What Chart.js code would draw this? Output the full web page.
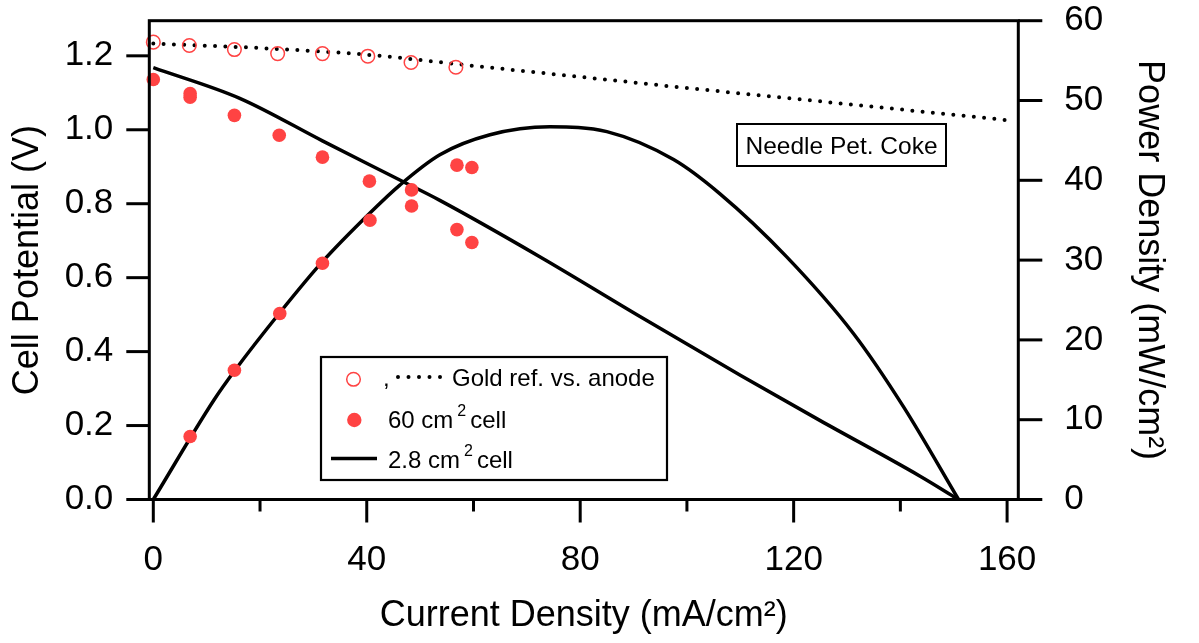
<!DOCTYPE html>
<html>
<head>
<meta charset="utf-8">
<script src="https://cdn.jsdelivr.net/npm/chart.js@4.4.1/dist/chart.umd.min.js"></script>
<style>
  html, body { margin: 0; padding: 0; background: #fff; }
  #wrap { width: 1199px; height: 643px; }
</style>
</head>
<body>
<div id="wrap"><canvas id="c" width="1199" height="643"></canvas></div>
<script>
// Current density (mA/cm²) against cell potential (V) and power density (mW/cm²)
const goldRefX  = [0, 6.75, 15.2, 23.3, 31.7, 40.2, 48.3, 56.7];
const goldRefV  = [1.237, 1.228, 1.217, 1.206, 1.206, 1.199, 1.182, 1.169];

const goldLineX = [0, 20, 40, 60, 80, 100, 120, 140, 160];
const goldLineV = [1.233, 1.221, 1.203, 1.173, 1.143, 1.113, 1.084, 1.055, 1.026];

const cell60X   = [0, 6.9, 6.9, 15.2, 23.6, 31.7, 40.5, 48.4, 56.9, 59.7];
const cell60V   = [1.136, 1.098, 1.088, 1.039, 0.985, 0.926, 0.861, 0.794, 0.730, 0.695];

const cell60PX  = [6.9, 15.2, 23.7, 31.7, 40.6, 48.4, 56.9, 59.7];
const cell60P   = [7.9, 16.2, 23.3, 29.6, 35.0, 38.8, 41.9, 41.6];

const cell28X   = [0, 16.2, 31.7, 46.2, 53.7, 72.5, 91.2, 110, 124.9, 143.7, 150.9];
const cell28V   = [1.168, 1.085, 0.970, 0.864, 0.809, 0.656, 0.495, 0.336, 0.214, 0.063, 0];

const cell28PX  = [0, 11.4, 15.2, 23.7, 31.7, 40.6, 46.2, 53.7, 63.1, 74.3, 85.0, 97.5, 106.2, 118.7, 131.2, 140.6, 150.9];
const cell28P   = [0, 12.5, 16.1, 23.4, 29.8, 35.9, 39.4, 43.2, 45.7, 46.7, 46.1, 42.6, 38.3, 30.4, 20.8, 11.6, 0];

const xTickStep = 20;
const xLabelStep = 40;

const RED = '#FF4343';
const FONT = '"Liberation Sans", Arial, sans-serif';
Chart.defaults.font.family = FONT;
Chart.defaults.color = '#000';

const toXY = (xs, ys) => xs.map((x, i) => ({ x, y: ys[i] }));

// Frame, outward tick marks, legend and sample label
const decorations = {
  id: 'decorations',
  afterDraw(chart) {
    const { ctx, chartArea: a, scales } = chart;
    ctx.save();
    ctx.strokeStyle = '#000';
    ctx.lineCap = 'butt';
    ctx.lineWidth = 3;
    ctx.strokeRect(a.left, a.top, a.right - a.left, a.bottom - a.top);

    const seg = (x1, y1, x2, y2) => { ctx.beginPath(); ctx.moveTo(x1, y1); ctx.lineTo(x2, y2); ctx.stroke(); };
    scales.x.ticks.forEach(t => {
      const px = scales.x.getPixelForValue(t.value);
      const major = Math.abs(t.value % xLabelStep) < 1e-6;
      seg(px, a.bottom, px, a.bottom + (major ? 23 : 12));
    });
    scales.y.ticks.forEach(t => {
      const py = scales.y.getPixelForValue(t.value);
      seg(a.left - 23, py, a.left, py);
    });
    scales.y1.ticks.forEach(t => {
      const py = scales.y1.getPixelForValue(t.value);
      seg(a.right, py, a.right + 24, py);
    });

    // Legend box
    const L = { x: 321, y: 357, w: 346, h: 123 };
    ctx.fillStyle = '#fff';
    ctx.fillRect(L.x, L.y, L.w, L.h);
    ctx.lineWidth = 2.2;
    ctx.strokeRect(L.x, L.y, L.w, L.h);

    const textFont = '24px ' + FONT;
    const supFont = '16px ' + FONT;
    ctx.fillStyle = '#000';
    ctx.textBaseline = 'alphabetic';
    ctx.textAlign = 'left';

    // Row 1: open circle, comma, dotted sample, text
    ctx.beginPath();
    ctx.arc(353.5, 379.3, 6.8, 0, Math.PI * 2);
    ctx.strokeStyle = RED;
    ctx.lineWidth = 1.5;
    ctx.stroke();
    ctx.font = textFont;
    ctx.fillStyle = '#000';
    ctx.fillText(',', 383, 386);
    ctx.save();
    ctx.strokeStyle = '#000';
    ctx.lineWidth = 4;
    ctx.lineCap = 'round';
    ctx.setLineDash([0, 10.5]);
    ctx.beginPath(); ctx.moveTo(398, 377); ctx.lineTo(445, 377); ctx.stroke();
    ctx.restore();
    ctx.fillText('Gold ref. vs. anode', 452, 386);

    // Row 2: filled circle, "60 cm² cell"
    ctx.beginPath();
    ctx.arc(354.3, 420, 7.2, 0, Math.PI * 2);
    ctx.fillStyle = RED;
    ctx.fill();
    ctx.fillStyle = '#000';
    const supLabel = (pre, post, x, y) => {
      ctx.font = textFont;
      ctx.fillText(pre, x, y);
      let cx = x + ctx.measureText(pre).width + 4;
      ctx.font = supFont;
      ctx.fillText('2', cx, y - 12);
      cx += ctx.measureText('2').width + 4;
      ctx.font = textFont;
      ctx.fillText(post, cx, y);
    };
    supLabel('60 cm', 'cell', 388, 427.5);

    // Row 3: solid line, "2.8 cm² cell"
    ctx.strokeStyle = '#000';
    ctx.lineWidth = 3.5;
    seg(331, 458.5, 377, 458.5);
    supLabel('2.8 cm', 'cell', 388, 468);

    // Sample label
    const B = { x: 737, y: 124, w: 209, h: 42 };
    ctx.fillStyle = '#fff';
    ctx.fillRect(B.x, B.y, B.w, B.h);
    ctx.lineWidth = 2;
    ctx.strokeStyle = '#000';
    ctx.strokeRect(B.x, B.y, B.w, B.h);
    ctx.fillStyle = '#000';
    ctx.font = '24.5px ' + FONT;
    ctx.textAlign = 'center';
    ctx.fillText('Needle Pet. Coke', B.x + B.w / 2, B.y + 30);
    ctx.restore();
  }
};

const noPadV = s => { s.paddingTop = 0; s.paddingBottom = 0; };
const noPadH = s => { s.paddingLeft = 0; s.paddingRight = 0; };

new Chart(document.getElementById('c'), {
  type: 'line',
  data: {
    datasets: [
      {
        label: 'Gold ref. vs. anode',
        data: toXY(goldRefX, goldRefV),
        showLine: false,
        pointRadius: 6.8,
        pointBorderWidth: 1.5,
        pointBorderColor: RED,
        pointBackgroundColor: 'rgba(0,0,0,0)',
        yAxisID: 'y',
        clip: false
      },
      {
        label: '60 cm² cell',
        data: toXY(cell60X, cell60V),
        showLine: false,
        pointRadius: 6.8,
        pointBorderWidth: 0,
        pointBackgroundColor: RED,
        pointBorderColor: RED,
        yAxisID: 'y',
        clip: false
      },
      {
        label: '60 cm² cell power',
        data: toXY(cell60PX, cell60P),
        showLine: false,
        pointRadius: 6.8,
        pointBorderWidth: 0,
        pointBackgroundColor: RED,
        pointBorderColor: RED,
        yAxisID: 'y1',
        clip: false
      },
      {
        label: 'Gold ref. line',
        data: toXY(goldLineX, goldLineV),
        borderColor: '#000',
        borderWidth: 4,
        borderDash: [0, 10.3],
        borderCapStyle: 'round',
        pointRadius: 0,
        cubicInterpolationMode: 'monotone',
        yAxisID: 'y'
      },
      {
        label: '2.8 cm² cell',
        data: toXY(cell28X, cell28V),
        borderColor: '#000',
        borderWidth: 3.5,
        pointRadius: 0,
        cubicInterpolationMode: 'monotone',
        yAxisID: 'y'
      },
      {
        label: '2.8 cm² cell power',
        data: toXY(cell28PX, cell28P),
        borderColor: '#000',
        borderWidth: 3.5,
        pointRadius: 0,
        cubicInterpolationMode: 'monotone',
        yAxisID: 'y1'
      }
    ]
  },
  options: {
    responsive: false,
    animation: false,
    devicePixelRatio: 1,
    layout: { padding: { top: 20.7, left: 0, right: 0, bottom: 0 } },
    plugins: { legend: { display: false }, tooltip: { enabled: false } },
    scales: {
      x: {
        type: 'linear',
        position: 'bottom',
        min: -0.75,
        max: 162.1,
        grid: { display: false, drawTicks: false },
        border: { display: false },
        ticks: {
          stepSize: xTickStep,
          includeBounds: false,
          autoSkip: false,
          maxRotation: 0,
          padding: 40,
          color: '#000',
          font: { size: 35 },
          callback: v => (Math.abs(v % xLabelStep) < 1e-6 ? String(v) : '')
        },
        title: {
          display: true,
          text: 'Current Density (mA/cm²)',
          color: '#000',
          font: { size: 36 },
          padding: { top: 0, bottom: 5 }
        },
        afterFit: s => { s.height = 143.5; noPadH(s); }
      },
      y: {
        type: 'linear',
        position: 'left',
        min: 0,
        max: 1.295,
        grid: { display: false, drawTicks: false },
        border: { display: false },
        ticks: {
          stepSize: 0.2,
          includeBounds: false,
          padding: 36,
          color: '#000',
          font: { size: 35 },
          callback: v => v.toFixed(1)
        },
        title: {
          display: true,
          text: 'Cell Potential (V)',
          color: '#000',
          font: { size: 36 },
          padding: { top: 6, bottom: 0 }
        },
        afterFit: s => { s.width = 149.3; noPadV(s); }
      },
      y1: {
        type: 'linear',
        position: 'right',
        min: 0,
        max: 60,
        grid: { display: false, drawTicks: false },
        border: { display: false },
        ticks: {
          stepSize: 10,
          includeBounds: false,
          padding: 46,
          color: '#000',
          font: { size: 35 },
          callback: v => String(v)
        },
        title: {
          display: true,
          text: 'Power Density (mW/cm²)',
          color: '#000',
          font: { size: 36 },
          padding: { top: 28, bottom: 0 }
        },
        afterFit: s => { s.width = 180.7; noPadV(s); }
      }
    }
  },
  plugins: [decorations]
});
</script>
</body>
</html>
